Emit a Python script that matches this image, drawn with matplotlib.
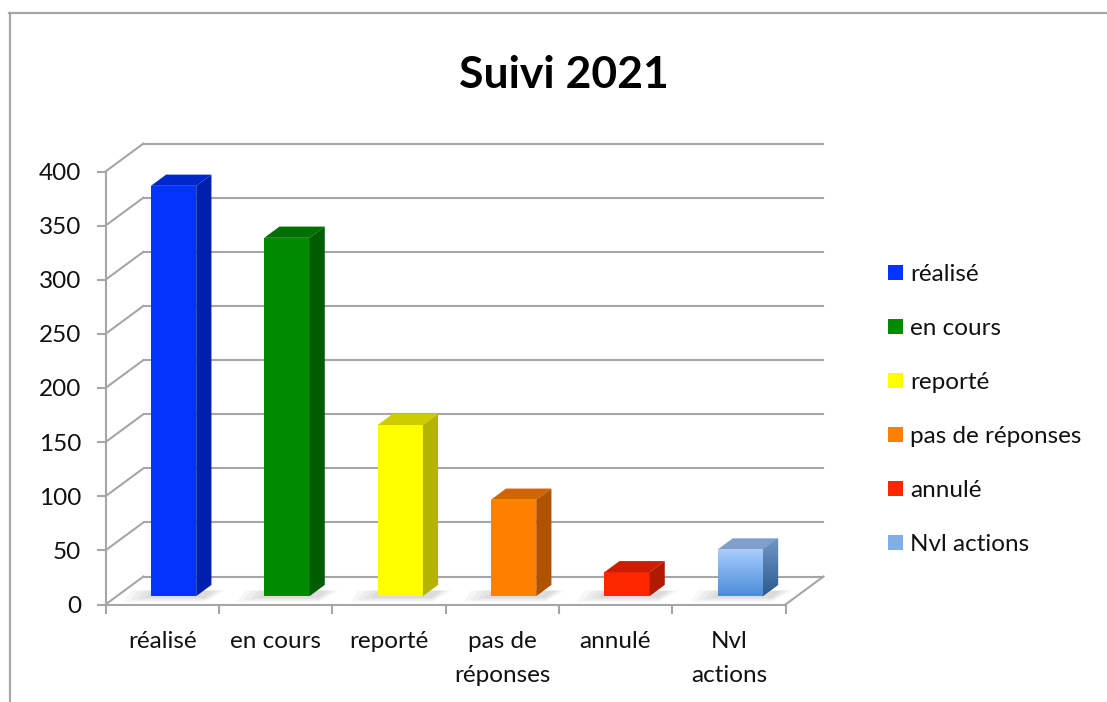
import matplotlib
matplotlib.use("Agg")
import matplotlib.pyplot as plt
from matplotlib.patches import Polygon, Patch
from matplotlib.lines import Line2D
from matplotlib.colors import LinearSegmentedColormap
import numpy as np

# ---------------- data ----------------
categories = ["réalisé", "en cours", "reporté", "pas de\nréponses", "annulé", "Nvl\nactions"]
legend_labels = ["réalisé", "en cours", "reporté", "pas de réponses", "annulé", "Nvl actions"]
values = [379, 331, 158, 89, 22, 43]
y_ticks = [0, 50, 100, 150, 200, 250, 300, 350, 400]
title = "Suivi 2021"

front_colors = ["#0433FF", "#008A00", "#FFFF00", "#FF7F00", "#FF2600", "#8DB8F0"]
top_colors = ["#0027CC", "#007000", "#CCCC00", "#D06500", "#CC1E00", "#7F9FCC"]
side_colors = ["#001FAF", "#005C00", "#B3B300", "#B05300", "#B01A00", "#4F76A8"]

FONT = "Lato"
plt.rcParams["font.family"] = [FONT, "DejaVu Sans"]

W, H = 1107, 702
fig = plt.figure(figsize=(W / 100, H / 100), dpi=100)
fig.patch.set_facecolor("white")

# axes placed so that data (0..6, 0..400) maps to the front plane
px_left, px_right = 105.5, 785.5
py_zero, py_top = 604.5, 171.5
ax = fig.add_axes([px_left / W, (H - py_zero) / H, (px_right - px_left) / W, (py_zero - py_top) / H])
ax.set_facecolor("none")
ax.set_xlim(0, 6)
ax.set_ylim(0, 400)

# oblique depth offset in data units
px_per_cat = (px_right - px_left) / 6
px_per_val = (py_zero - py_top) / 400
Dx = 38 / px_per_cat
Dy = 28 / px_per_val

grid_c = "#A6A6A6"
glw = 1.5
n = len(categories)

# back-wall gridlines and left-wall diagonals
for v in y_ticks:
    ax.add_line(Line2D([Dx, n + Dx], [v + Dy, v + Dy], color=grid_c, lw=glw, clip_on=False, zorder=1))
    ax.add_line(Line2D([0, Dx], [v, v + Dy], color=grid_c, lw=glw, clip_on=False, zorder=1))
# floor right edge
ax.add_line(Line2D([n, n + Dx], [0, Dy], color=grid_c, lw=glw, clip_on=False, zorder=1))

# bars
bw = 0.4
d0, d1 = 0.3, 0.7
bd = d1 - d0
base = d0 * Dy
for i, v in enumerate(values):
    x0 = i + 0.3 + d0 * Dx
    # soft floor shadow (layered to look blurred)
    for k in range(4):
        s = 0.03 * (k + 1)
        sh = Polygon([(x0 - s * 2.0, base - 1.5 - k * 1.2), (x0 + bw + bd * Dx * 0.6, base - 1.5 - k * 1.2),
                      (x0 + bw + bd * Dx + s, base + bd * Dy * 0.5), (x0 + bd * Dx * 0.5 - s * 2.0, base + bd * Dy * 0.5)],
                     closed=True, facecolor="black", edgecolor="none", alpha=0.035, clip_on=False, zorder=2)
        ax.add_patch(sh)
    front = ax.bar(x0, v, width=bw, bottom=base, align="edge", color=front_colors[i],
                   edgecolor="none", clip_on=False, zorder=4)[0]
    top = Polygon([(x0, base + v), (x0 + bw, base + v), (x0 + bw + bd * Dx, base + v + bd * Dy),
                   (x0 + bd * Dx, base + v + bd * Dy)], closed=True, facecolor=top_colors[i],
                  edgecolor="none", clip_on=False, zorder=4)
    side = Polygon([(x0 + bw, base), (x0 + bw + bd * Dx, base + bd * Dy), (x0 + bw + bd * Dx, base + v + bd * Dy),
                    (x0 + bw, base + v)], closed=True, facecolor=side_colors[i], edgecolor="none",
                   clip_on=False, zorder=4)
    ax.add_patch(top)
    ax.add_patch(side)
    if i == n - 1:
        # gradient faces for the last bar
        cm_f = LinearSegmentedColormap.from_list("f", ["#4A8CD8", "#A9CDFF"])
        cm_s = LinearSegmentedColormap.from_list("s", ["#2C5B90", "#7196C6"])
        grad = np.linspace(0, 1, 256).reshape(-1, 1)
        im = ax.imshow(grad, cmap=cm_f, origin="lower", aspect="auto",
                       extent=[x0, x0 + bw, base, base + v], zorder=5, clip_on=True)
        im.set_clip_path(front)
        im2 = ax.imshow(grad, cmap=cm_s, origin="lower", aspect="auto",
                        extent=[x0 + bw, x0 + bw + bd * Dx, base, base + v + bd * Dy], zorder=5, clip_on=True)
        im2.set_clip_path(side)

ax.set_xlim(0, 6)
ax.set_ylim(0, 400)

# spines / ticks
for s in ["top", "right"]:
    ax.spines[s].set_visible(False)
for s in ["left", "bottom"]:
    ax.spines[s].set_color(grid_c)
    ax.spines[s].set_linewidth(glw)
    ax.spines[s].set_zorder(6)

ax.set_yticks(y_ticks)
ax.set_yticklabels([str(t) for t in y_ticks])
ax.tick_params(axis="y", length=6.5, width=glw, color=grid_c, pad=11, labelsize=17.5, labelcolor="#111111")
ax.set_xticks(range(n + 1))
ax.set_xticklabels([""] * (n + 1))
ax.tick_params(axis="x", which="major", length=6.5, width=glw, color=grid_c)
ax.set_xticks(np.arange(n) + 0.5, minor=True)
ax.set_xticklabels(categories, minor=True, linespacing=1.75)
ax.tick_params(axis="x", which="minor", length=0, pad=19, labelsize=17.5, labelcolor="#111111")

# title
fig.text(564 / W, 1 - 88 / H, title, ha="center", va="baseline", fontsize=32, fontweight="bold",
         color="#000000")

# legend
handles = [Patch(facecolor=c, edgecolor="none") for c in front_colors]
handles[-1] = Patch(facecolor="#7FAEE8", edgecolor="none")
leg = fig.legend(handles, legend_labels, loc="upper left", bbox_to_anchor=(888 / W, 1 - 264 / H),
                 frameon=False, fontsize=17.5, labelspacing=1.36, handlelength=0.6, handleheight=0.6,
                 handletextpad=0.3, borderpad=0, borderaxespad=0)
for t in leg.get_texts():
    t.set_color("#111111")

# chart-area border (top and left)
fig.add_artist(Line2D([9 / W, 1], [1 - 13 / H, 1 - 13 / H], transform=fig.transFigure, color="#A8A8A8", lw=1.6))
fig.add_artist(Line2D([10 / W, 10 / W], [0, 1 - 13 / H], transform=fig.transFigure, color="#A8A8A8", lw=1.6))

fig.savefig("out.png", dpi=100, facecolor="white")
